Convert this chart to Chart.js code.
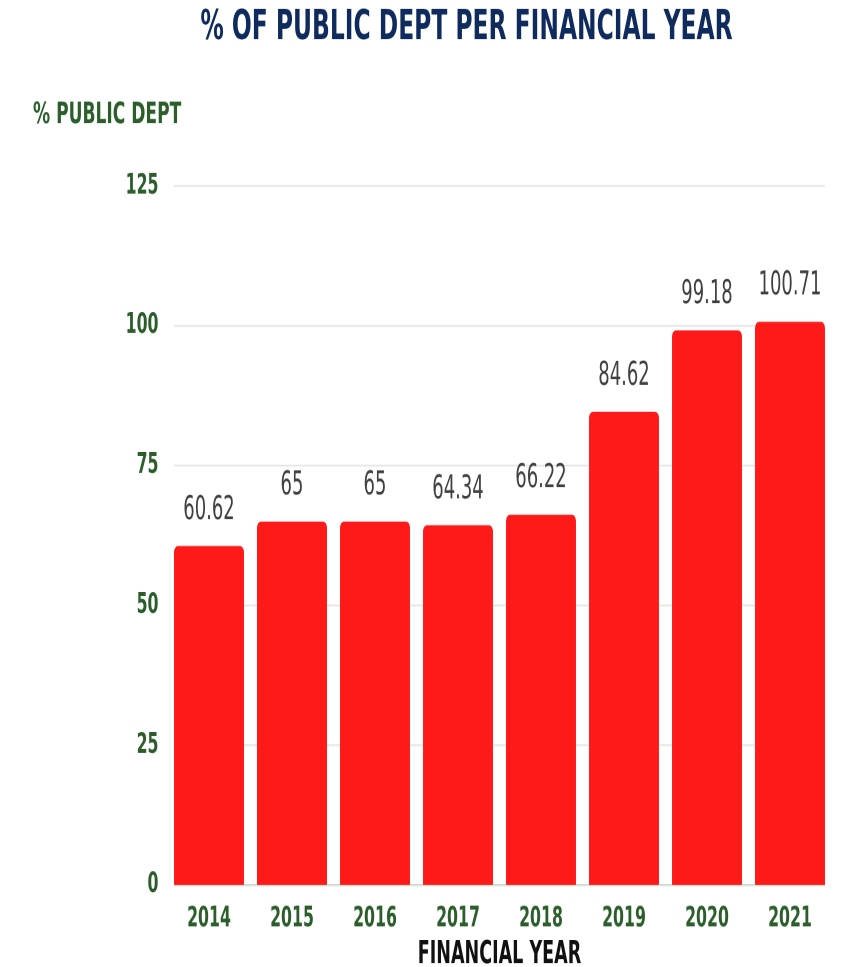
<!DOCTYPE html>
<html>
<head>
<meta charset="utf-8">
<script src="https://cdn.jsdelivr.net/npm/chart.js@4.4.1/dist/chart.umd.min.js"></script>
<style>
html, body { margin: 0; padding: 0; background: #fff; overflow: hidden; }
body { width: 841px; height: 967px; }
#wrap { width: 841px; height: 604.375px; transform: scaleY(1.6); transform-origin: 0 0; }
</style>
</head>
<body>
<div id="wrap"><canvas id="chartDeuda"></canvas></div>
<script>
const anios = ["2014", "2015", "2016", "2017", "2018", "2019", "2020", "2021"];
const deudaPublica = [60.62, 65, 65, 64.34, 66.22, 84.62, 99.18, 100.71];
const ticksY = [0, 25, 50, 75, 100, 125];

const fuente = "'DejaVu Sans Condensed', 'Liberation Sans Narrow', sans-serif";
const verde = "#2b5e2b";

// lineas horizontales solo de la primera a la ultima barra
const lineasGuia = {
    id: "lineasGuia",
    beforeDatasetsDraw(chart) {
        const ctx = chart.ctx;
        const y = chart.scales.y;
        const barras = chart.getDatasetMeta(0).data;
        const x0 = barras[0].x - barras[0].width / 2;
        const ult = barras[barras.length - 1];
        const x1 = ult.x + ult.width / 2;
        ctx.save();
        ctx.lineWidth = 1.2;
        y.ticks.forEach(t => {
            const py = y.getPixelForValue(t.value);
            ctx.strokeStyle = t.value === 0 ? "#cfdccf" : "#e5e8e5";
            ctx.beginPath();
            ctx.moveTo(x0, py);
            ctx.lineTo(x1, py);
            ctx.stroke();
        });
        ctx.restore();
    }
};

// valores encima de cada barra
const etiquetas = {
    id: "etiquetas",
    afterDatasetsDraw(chart) {
        const ctx = chart.ctx;
        const barras = chart.getDatasetMeta(0).data;
        ctx.save();
        ctx.font = "20px " + fuente;
        ctx.fillStyle = "#404040";
        ctx.textAlign = "center";
        ctx.textBaseline = "alphabetic";
        barras.forEach((b, i) => {
            ctx.fillText(String(deudaPublica[i]), b.x, b.y - 17);
        });
        ctx.restore();
    }
};

// titulo principal, titulo del eje Y y del eje X
const titulos = {
    id: "titulos",
    afterDraw(chart) {
        const ctx = chart.ctx;
        const area = chart.chartArea;
        ctx.save();
        ctx.textBaseline = "middle";
        ctx.textAlign = "center";
        ctx.fillStyle = "#0f2a5c";
        ctx.font = "bold 26px " + fuente;
        ctx.fillText("% OF PUBLIC DEPT PER FINANCIAL YEAR", 466.5, 17.5);

        ctx.fillStyle = "#111";
        ctx.font = "bold 19.5px " + fuente;
        ctx.fillText("FINANCIAL YEAR", (area.left + area.right) / 2, 597);

        ctx.textAlign = "left";
        ctx.fillStyle = verde;
        ctx.font = "bold 19px " + fuente;
        ctx.fillText("% PUBLIC DEPT", 33, 72);
        ctx.restore();
    }
};

const ctx = document.getElementById("chartDeuda").getContext("2d");

new Chart(ctx, {
    type: "bar",
    data: {
        labels: anios,
        datasets: [{
            label: "% Public Dept",
            data: deudaPublica,
            backgroundColor: "#ff1a1a",
            borderRadius: 4,
            borderSkipped: "start",
            categoryPercentage: 1,
            barPercentage: 0.843
        }]
    },
    options: {
        responsive: true,
        maintainAspectRatio: false,
        animation: false,
        devicePixelRatio: 2,
        layout: { padding: { top: 116.25, right: 9.5, left: 0, bottom: 0 } },
        plugins: {
            legend: { display: false },
            tooltip: { enabled: false }
        },
        scales: {
            x: {
                grid: { display: false, drawTicks: false },
                border: { display: false },
                ticks: {
                    color: verde,
                    font: { family: fuente, size: 17.5, weight: "bold" },
                    padding: 11
                },
                afterFit(s) { s.height = 51.25; }
            },
            y: {
                min: 0,
                max: 125,
                grid: { display: false, drawTicks: false },
                border: { display: false },
                ticks: {
                    color: verde,
                    font: { family: fuente, size: 17.5, weight: "bold" },
                    padding: 9
                },
                afterBuildTicks(s) { s.ticks = ticksY.map(v => ({ value: v })); },
                afterFit(s) { s.width = 167.5; }
            }
        }
    },
    plugins: [lineasGuia, etiquetas, titulos]
});
</script>
</body>
</html>
